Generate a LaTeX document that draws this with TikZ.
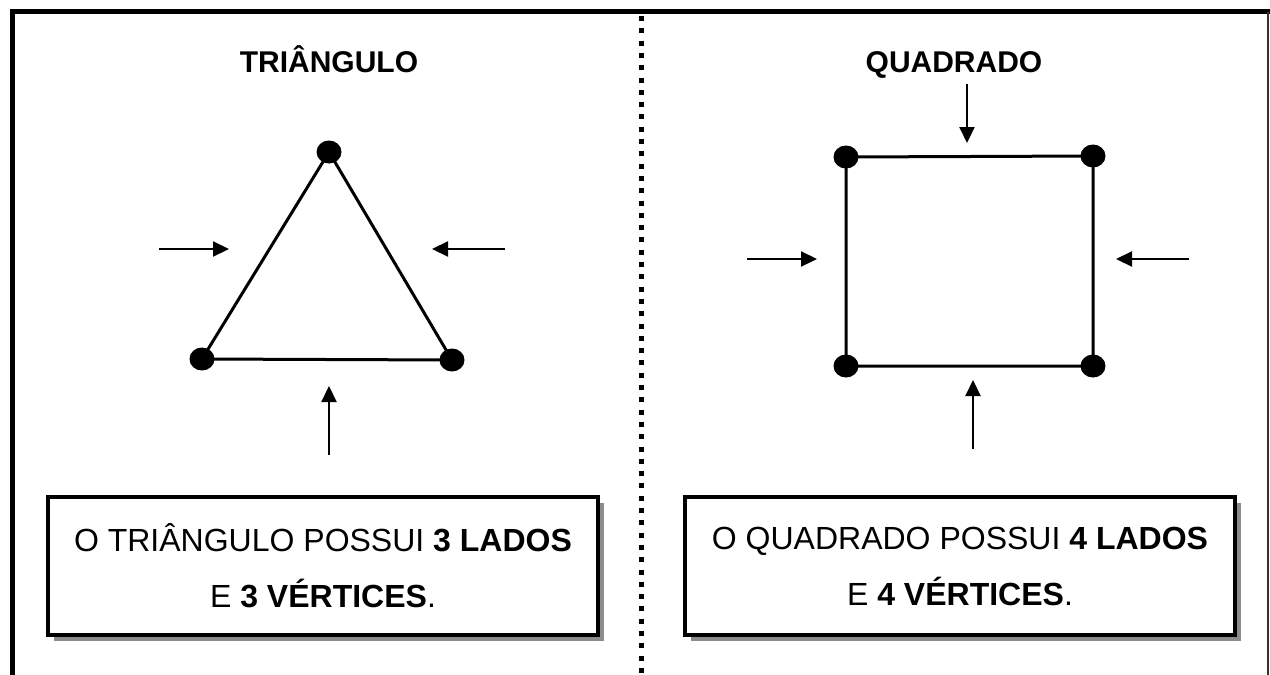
\documentclass[tikz,border=0pt]{standalone}
\usepackage{fontspec}
\setmainfont{Liberation Sans}
\usetikzlibrary{arrows.meta,shapes.geometric,shadows}
\begin{document}
\begin{tikzpicture}[x=1pt,y=-1pt,
  frame/.style={line width=5pt,black},
  dotline/.style={line width=5pt,dash pattern=on 5pt off 7.3pt},
  vtx/.style={ellipse,fill=black,minimum width=25pt,minimum height=23pt,inner sep=0pt},
  side/.style={line width=3pt},
  ptr/.style={line width=2.2pt,-{Triangle[length=16pt,width=15pt]}},
  ttl/.style={font=\fontsize{30}{36}\selectfont\bfseries},
  infobox/.style={draw,line width=4pt,fill=white,minimum width=550pt,minimum height=138pt,
    align=center,font=\fontsize{32}{56}\selectfont,
    drop shadow={shadow xshift=6pt,shadow yshift=-6pt,fill=gray!90,opacity=1}}]
\useasboundingbox (0,0) rectangle (1270,675);
\fill[white] (0,0) rectangle (1270,675);
% frame
\coordinate (fl) at (12.5,675);
\coordinate (ftl) at (12.5,11.5);
\coordinate (ftr) at (1270,11.5);
\draw[frame] (fl) -- (ftl) -- (ftr);
\coordinate (rt) at (1268,11.5);
\coordinate (rb) at (1268,675);
\draw[line width=2pt,black!80] (rt) -- (rb);
\coordinate (dt) at (641,16);
\coordinate (db) at (641,680);
\draw[dotline] (dt) -- (db);
% titles
\node[ttl,anchor=base] (t1) at (329,72) {TRIÂNGULO};
\node[ttl,anchor=base] (t2) at (954,72) {QUADRADO};
% triangle
\node[vtx] (a) at (329,152) {};
\node[vtx] (b) at (202,359) {};
\node[vtx] (c) at (452,360) {};
\draw[side] (a.center) -- (c.center) -- (b.center) -- cycle;
\coordinate (l1s) at (159,249); \coordinate (l1e) at (229,249);
\coordinate (r1s) at (505,249); \coordinate (r1e) at (432,249);
\coordinate (u1s) at (329,455); \coordinate (u1e) at (329,386);
\draw[ptr] (l1s) -- (l1e);
\draw[ptr] (r1s) -- (r1e);
\draw[ptr] (u1s) -- (u1e);
% square
\node[vtx] (p) at (846,157) {};
\node[vtx] (q) at (1093,156) {};
\node[vtx] (r) at (1093,366) {};
\node[vtx] (s) at (846,366) {};
\draw[side] (p.center) -- (q.center) -- (r.center) -- (s.center) -- cycle;
\coordinate (d2s) at (967,84); \coordinate (d2e) at (967,143);
\coordinate (l2s) at (747,259); \coordinate (l2e) at (817,259);
\coordinate (r2s) at (1189,259); \coordinate (r2e) at (1116,259);
\coordinate (u2s) at (973,449); \coordinate (u2e) at (973,380);
\draw[ptr] (d2s) -- (d2e);
\draw[ptr] (l2s) -- (l2e);
\draw[ptr] (r2s) -- (r2e);
\draw[ptr] (u2s) -- (u2e);
% boxes
\node[infobox] (box1) at (323,566) {O TRIÂNGULO POSSUI \textbf{3 LADOS}\\E \textbf{3 VÉRTICES}.};
\node[infobox] (box2) at (960,566) {O QUADRADO POSSUI \textbf{4 LADOS}\\E \textbf{4 VÉRTICES}.};
\end{tikzpicture}
\end{document}
